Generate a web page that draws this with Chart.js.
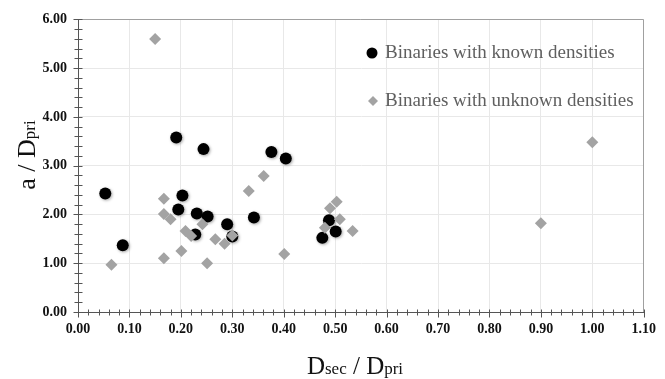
<!DOCTYPE html>
<html>
<head>
<meta charset="utf-8">
<script src="https://cdn.jsdelivr.net/npm/chart.js@4.4.1/dist/chart.umd.min.js"></script>
<style>
  html, body { margin: 0; padding: 0; background: #fff; }
  #wrap { width: 665px; height: 379px; }
</style>
</head>
<body>
<div id="wrap"><canvas id="ratioChart" width="665" height="379"></canvas></div>
<script>
// Binaries with known densities (Dsec/Dpri, a/Dpri)
let knownX = [0.053, 0.087, 0.191, 0.195, 0.203, 0.228, 0.231, 0.244, 0.252, 0.290, 0.300, 0.342, 0.376, 0.404, 0.475, 0.488, 0.501];
let knownY = [2.43, 1.37, 3.58, 2.10, 2.39, 1.59, 2.02, 3.34, 1.96, 1.80, 1.55, 1.94, 3.28, 3.15, 1.52, 1.88, 1.65];

// Binaries with unknown densities
let unknownX = [0.065, 0.150, 0.167, 0.167, 0.180, 0.167, 0.201, 0.209, 0.220, 0.242, 0.251, 0.267, 0.285, 0.300, 0.332, 0.361, 0.401, 0.480, 0.490, 0.503, 0.509, 0.534, 0.900, 1.000];
let unknownY = [0.97, 5.60, 2.32, 2.01, 1.90, 1.10, 1.25, 1.66, 1.56, 1.80, 1.00, 1.49, 1.40, 1.57, 2.48, 2.79, 1.19, 1.73, 2.13, 2.26, 1.90, 1.66, 1.82, 3.48];

let xTickLabels = ['0.00', '0.10', '0.20', '0.30', '0.40', '0.50', '0.60', '0.70', '0.80', '0.90', '1.00', '1.10'];
let yTickLabels = ['0.00', '1.00', '2.00', '3.00', '4.00', '5.00', '6.00'];

let legendLabels = ['Binaries with known densities', 'Binaries with unknown densities'];

const SERIF = '"Liberation Serif", "Times New Roman", serif';

function toPoints(xs, ys) {
	return xs.map((x, i) => ({ x: x, y: ys[i] }));
}

// text with subscripts, centred on cx
function drawRich(ctx, parts, cx, cy) {
	let total = 0;
	parts.forEach(p => {
		ctx.font = p.size + 'px ' + SERIF;
		p.w = ctx.measureText(p.t).width;
		total += p.w;
	});
	let x = cx - total / 2;
	parts.forEach(p => {
		ctx.font = p.size + 'px ' + SERIF;
		ctx.fillText(p.t, x, cy + (p.dy || 0));
		x += p.w;
	});
}

const decorations = {
	id: 'decorations',
	beforeDatasetsDraw(chart) {
		// top and right edges of the plot box
		const ctx = chart.ctx, a = chart.chartArea;
		ctx.save();
		ctx.strokeStyle = '#a0a0a0';
		ctx.lineWidth = 1;
		ctx.beginPath();
		ctx.moveTo(a.left, Math.round(a.top) + 0.5);
		ctx.lineTo(Math.round(a.right) - 0.5, Math.round(a.top) + 0.5);
		ctx.lineTo(Math.round(a.right) - 0.5, a.bottom);
		ctx.stroke();
		ctx.restore();
	},
	beforeDatasetDraw(chart, args) {
		if (args.index !== 0) return;
		const ctx = chart.ctx;
		ctx.save();
		ctx.shadowColor = 'rgba(0,0,0,0.35)';
		ctx.shadowBlur = 3;
		ctx.shadowOffsetX = 1;
		ctx.shadowOffsetY = 1;
	},
	afterDatasetDraw(chart, args) {
		if (args.index !== 0) return;
		chart.ctx.restore();
	},
	afterDraw(chart) {
		const ctx = chart.ctx;
		const xs = chart.scales.x, ys = chart.scales.y;
		const x0 = Math.round(xs.left) + 0.5;
		const y0 = Math.round(ys.bottom) + 0.5;

		// tick marks crossing the axes
		ctx.save();
		ctx.strokeStyle = '#555';
		ctx.lineWidth = 1;
		ctx.beginPath();
		for (let k = 0; k <= 55; k++) {
			const px = Math.round(xs.getPixelForValue(k / 50)) + 0.5;
			const major = k % 5 === 0;
			ctx.moveTo(px, y0 - 3);
			ctx.lineTo(px, y0 + (major ? 5 : 3));
		}
		for (let k = 0; k <= 30; k++) {
			const py = Math.round(ys.getPixelForValue(k / 5)) + 0.5;
			const major = k % 5 === 0;
			ctx.moveTo(x0 - (major ? 5 : 4), py);
			ctx.lineTo(x0 + 4, py);
		}
		ctx.stroke();

		// axis titles
		ctx.fillStyle = '#111';
		ctx.textBaseline = 'alphabetic';
		drawRich(ctx, [
			{ t: 'D', size: 25 },
			{ t: 'sec', size: 17 },
			{ t: ' / D', size: 25 },
			{ t: 'pri', size: 17 }
		], 355, 374);

		ctx.translate(35, 155);
		ctx.rotate(-Math.PI / 2);
		drawRich(ctx, [
			{ t: 'a / D', size: 26 },
			{ t: 'pri', size: 17 }
		], 0, 0);
		ctx.restore();

		// legend
		ctx.save();
		ctx.fillStyle = '#000';
		ctx.beginPath();
		ctx.arc(372, 53, 5.5, 0, Math.PI * 2);
		ctx.fill();
		ctx.fillStyle = '#a3a3a3';
		ctx.beginPath();
		ctx.moveTo(373, 96);
		ctx.lineTo(378, 101);
		ctx.lineTo(373, 106);
		ctx.lineTo(368, 101);
		ctx.closePath();
		ctx.fill();
		ctx.fillStyle = '#5f5f5f';
		ctx.font = '19px ' + SERIF;
		ctx.textBaseline = 'middle';
		ctx.fillText(legendLabels[0], 385, 53);
		ctx.fillText(legendLabels[1], 385, 101);
		ctx.restore();
	}
};

const ctx = document.getElementById('ratioChart').getContext('2d');
const tickFont = { family: SERIF, size: 14, weight: 'bold' };

const chart = new Chart(ctx, {
	type: 'scatter',
	data: {
		datasets: [
			{
				label: legendLabels[0],
				data: toPoints(knownX, knownY),
				pointStyle: 'circle',
				pointRadius: 6,
				pointHoverRadius: 6,
				backgroundColor: '#000',
				borderWidth: 0,
				order: 1
			},
			{
				label: legendLabels[1],
				data: toPoints(unknownX, unknownY),
				pointStyle: 'rectRot',
				pointRadius: 6,
				pointHoverRadius: 6,
				backgroundColor: '#a3a3a3',
				borderWidth: 0,
				order: 0
			}
		]
	},
	options: {
		responsive: false,
		animation: false,
		devicePixelRatio: 1,
		layout: { padding: { left: 0, right: 15, top: 15, bottom: 0 } },
		plugins: {
			legend: { display: false },
			tooltip: { enabled: false }
		},
		scales: {
			x: {
				type: 'linear',
				min: 0,
				max: 1.1,
				afterBuildTicks: scale => {
					scale.ticks = xTickLabels.map(t => ({ value: parseFloat(t) }));
				},
				afterFit: scale => { scale.height = 67; },
				ticks: {
					callback: (v, i) => xTickLabels[i],
					font: tickFont,
					color: '#111',
					padding: 9,
					maxRotation: 0,
					autoSkip: false
				},
				grid: { color: '#e8e8e8', drawTicks: false },
				border: { color: '#555' }
			},
			y: {
				type: 'linear',
				min: 0,
				max: 6,
				afterBuildTicks: scale => {
					scale.ticks = yTickLabels.map(t => ({ value: parseFloat(t) }));
				},
				afterFit: scale => { scale.width = 78; },
				ticks: {
					callback: (v, i) => yTickLabels[i],
					font: tickFont,
					color: '#111',
					padding: 11
				},
				grid: { color: '#e8e8e8', drawTicks: false },
				border: { color: '#555' }
			}
		}
	},
	plugins: [decorations]
});
</script>
</body>
</html>
